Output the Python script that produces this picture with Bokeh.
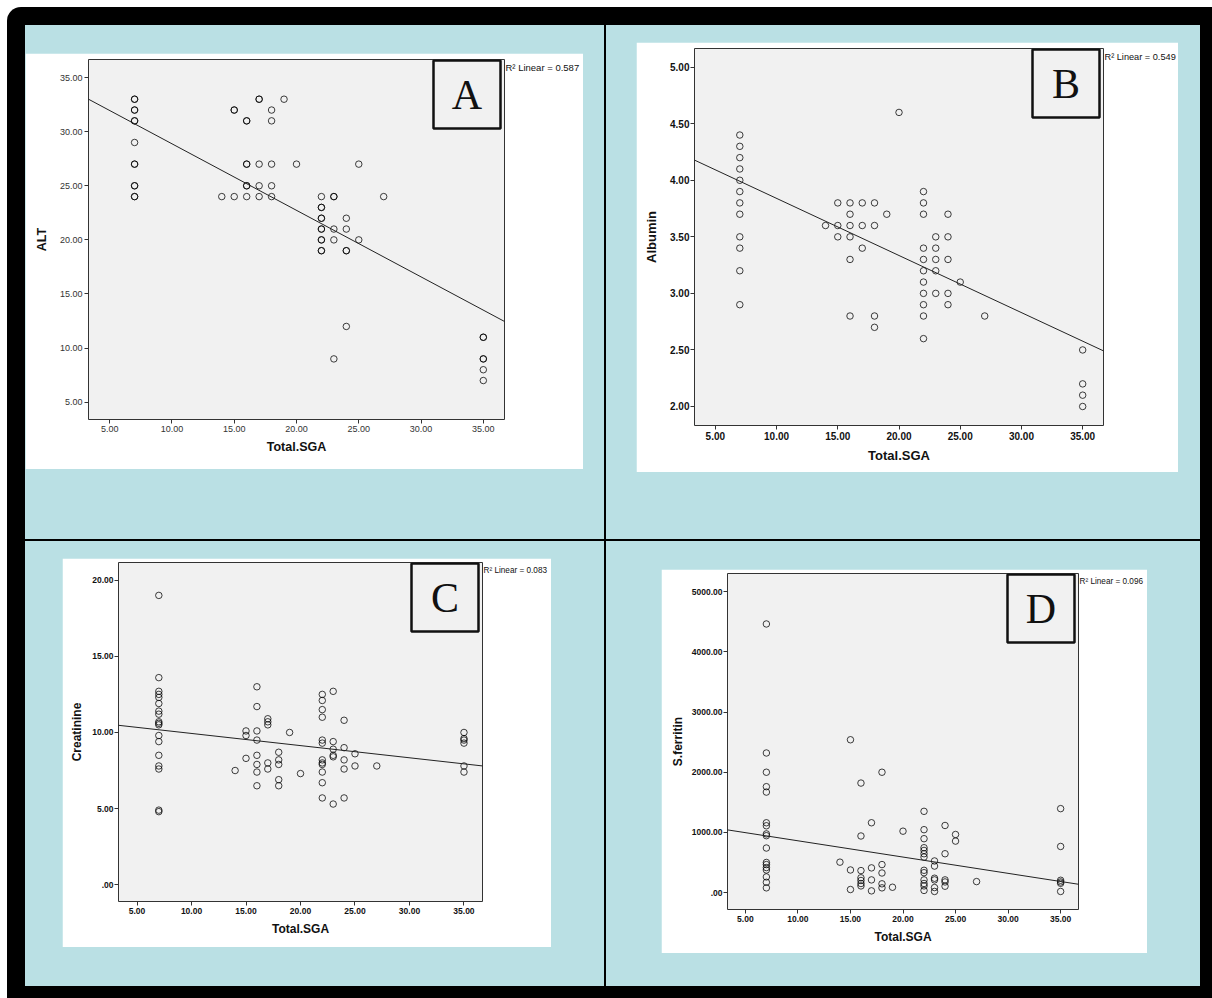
from bokeh.plotting import figure
from bokeh.models import Range1d, FixedTicker, Slope, Label, BoxAnnotation, Spacer, LinearAxis
from bokeh.layouts import row, column
from bokeh.embed import file_html
from bokeh.resources import INLINE

# ---------------- data ----------------
x_title = "Total.SGA"
x_ticks = [5, 10, 15, 20, 25, 30, 35]
x_tick_labels = ["5.00", "10.00", "15.00", "20.00", "25.00", "30.00", "35.00"]

# Panel A : ALT
sga_A = [7, 7, 7, 7, 7, 7, 7, 7, 7, 7, 7, 7, 7,
         14,
         15, 15, 15,
         16, 16, 16, 16, 16, 16, 16,
         17, 17, 17, 17, 17,
         18, 18, 18, 18, 18,
         19, 20,
         22, 22, 22, 22, 22, 22, 22, 22, 22, 22, 22,
         23, 23, 23, 23, 23,
         24, 24, 24, 24, 24,
         25, 25, 27,
         35, 35, 35, 35, 35, 35]
alt_A = [33, 33, 32, 32, 31, 31, 29, 27, 27, 25, 25, 24, 24,
         24,
         32, 32, 24,
         31, 31, 27, 27, 25, 25, 24,
         33, 33, 27, 25, 24,
         32, 31, 27, 25, 24,
         33, 27,
         24, 23, 23, 22, 22, 21, 21, 20, 20, 19, 19,
         24, 24, 21, 20, 9,
         22, 21, 19, 19, 12,
         27, 20, 24,
         11, 11, 9, 9, 8, 7]
fit_A = (35.03, -0.615)          # intercept, slope
r2_A = "R\u00b2 Linear = 0.587"
y_title_A = "ALT"
y_ticks_A = [5, 10, 15, 20, 25, 30, 35]
y_tick_labels_A = ["5.00", "10.00", "15.00", "20.00", "25.00", "30.00", "35.00"]

# Panel B : Albumin
sga_B = [7, 7, 7, 7, 7, 7, 7, 7, 7, 7, 7, 7,
         14,
         15, 15, 15,
         16, 16, 16, 16, 16, 16,
         17, 17, 17,
         18, 18, 18, 18,
         19, 20,
         22, 22, 22, 22, 22, 22, 22, 22, 22, 22, 22,
         23, 23, 23, 23, 23,
         24, 24, 24, 24, 24,
         25, 27,
         35, 35, 35, 35]
alb_B = [4.4, 4.3, 4.2, 4.1, 4.0, 3.9, 3.8, 3.7, 3.5, 3.4, 3.2, 2.9,
         3.6,
         3.8, 3.6, 3.5,
         3.8, 3.7, 3.6, 3.5, 3.3, 2.8,
         3.8, 3.6, 3.4,
         3.8, 3.6, 2.8, 2.7,
         3.7, 4.6,
         3.9, 3.8, 3.7, 3.4, 3.3, 3.2, 3.1, 3.0, 2.9, 2.8, 2.6,
         3.5, 3.4, 3.3, 3.2, 3.0,
         3.7, 3.5, 3.3, 3.0, 2.9,
         3.1, 2.8,
         2.5, 2.2, 2.1, 2.0]
fit_B = (4.345, -0.0505)
r2_B = "R\u00b2 Linear = 0.549"
y_title_B = "Albumin"
y_ticks_B = [2.0, 2.5, 3.0, 3.5, 4.0, 4.5, 5.0]
y_tick_labels_B = ["2.00", "2.50", "3.00", "3.50", "4.00", "4.50", "5.00"]

# Panel C : Creatinine
sga_C = [7, 7, 7, 7, 7, 7, 7, 7, 7, 7, 7, 7, 7, 7, 7, 7, 7, 7,
         14,
         15, 15, 15,
         16, 16, 16, 16, 16, 16, 16, 16,
         17, 17, 17, 17, 17,
         18, 18, 18, 18, 18,
         19, 20,
         22, 22, 22, 22, 22, 22, 22, 22, 22, 22, 22, 22,
         23, 23, 23, 23, 23, 23,
         24, 24, 24, 24, 24,
         25, 25, 27,
         35, 35, 35, 35, 35, 35]
cre_C = [19.0, 13.6, 12.7, 12.5, 12.3, 11.9, 11.4, 11.2, 10.7, 10.6, 10.5, 9.8, 9.4, 8.5, 7.8, 7.6, 4.9, 4.8,
         7.5,
         10.1, 9.8, 8.3,
         13.0, 11.7, 10.1, 9.5, 8.5, 7.9, 7.4, 6.5,
         10.9, 10.7, 10.5, 8.0, 7.6,
         8.7, 8.2, 7.9, 6.9, 6.5,
         10.0, 7.3,
         12.5, 12.1, 11.5, 11.0, 9.5, 9.3, 8.2, 8.0, 7.9, 7.4, 6.7, 5.7,
         12.7, 9.4, 8.9, 8.5, 8.4, 5.3,
         10.8, 9.0, 8.2, 7.6, 5.7,
         8.6, 7.8, 7.8,
         10.0, 9.6, 9.5, 9.3, 7.8, 7.4]
fit_C = (10.734, -0.0799)
r2_C = "R\u00b2 Linear = 0.083"
y_title_C = "Creatinine"
y_ticks_C = [0, 5, 10, 15, 20]
y_tick_labels_C = [".00", "5.00", "10.00", "15.00", "20.00"]

# Panel D : S.ferritin
sga_D = [7, 7, 7, 7, 7, 7, 7, 7, 7, 7, 7, 7, 7, 7, 7, 7, 7,
         14,
         15, 15, 15,
         16, 16, 16, 16, 16, 16, 16,
         17, 17, 17, 17,
         18, 18, 18, 18, 18,
         19, 20,
         22, 22, 22, 22, 22, 22, 22, 22, 22, 22, 22, 22, 22,
         23, 23, 23, 23, 23, 23,
         24, 24, 24, 24, 24,
         25, 25, 27,
         35, 35, 35, 35, 35, 35]
fer_D = [4465, 2320, 2000, 1760, 1670, 1160, 1110, 975, 945, 740, 500, 465, 415, 375, 260, 170, 78,
         505,
         2540, 375, 50,
         1820, 940, 365, 245, 200, 150, 110,
         1160, 410, 210, 28,
         2000, 465, 325, 145, 78,
         88, 1020,
         1350, 1045, 895, 745, 700, 645, 590, 370, 330, 210, 150, 110, 35,
         525, 440, 238, 210, 83, 18,
         1115, 645, 210, 176, 105,
         965, 855, 182,
         1395, 766, 204, 176, 154, 18]
fit_D = (1131.0, -27.07)
r2_D = "R\u00b2 Linear = 0.096"
y_title_D = "S.ferritin"
y_ticks_D = [0, 1000, 2000, 3000, 4000, 5000]
y_tick_labels_D = [".00", "1000.00", "2000.00", "3000.00", "4000.00", "5000.00"]

# ---------------- styling / layout ----------------
BLUE = "#bae0e4"
PLOT_BG = "#f1f1f1"
FONT = "Liberation Sans"
SERIF = "Liberation Serif"
X_RANGE = (3.3, 36.7)


def make_panel(xs, ys, y_range, y_ticks, y_tick_labels, y_title, fit, r2, letter,
               frame, borders, margin, tick_style, tick_size, tick_color,
               ylab_standoff, ytick_standoff, title_size, r2_size):
    fw, fh = frame
    bl, br, bt, bb = borders
    p = figure(frame_width=fw, frame_height=fh,
               min_border_left=bl, min_border_right=br,
               min_border_top=bt, min_border_bottom=bb,
               x_range=Range1d(*X_RANGE), y_range=Range1d(*y_range),
               output_backend="svg", toolbar_location=None, title=None,
               margin=margin)
    p.background_fill_color = PLOT_BG
    p.border_fill_color = "white"
    p.outline_line_color = "#333333"
    p.outline_line_width = 1
    p.grid.visible = False

    p.xaxis.ticker = FixedTicker(ticks=x_ticks, minor_ticks=[])
    p.xaxis.major_label_overrides = dict(zip(x_ticks, x_tick_labels))
    p.yaxis.ticker = FixedTicker(ticks=y_ticks, minor_ticks=[])
    p.yaxis.major_label_overrides = dict(zip(y_ticks, y_tick_labels))
    p.xaxis.axis_label = x_title
    p.yaxis.axis_label = y_title

    for ax in (p.xaxis, p.yaxis):
        ax.axis_line_color = None
        ax.major_tick_in = 0
        ax.major_tick_out = 4
        ax.major_tick_line_color = "#333333"
        ax.minor_tick_line_color = None
        ax.major_label_text_font = FONT
        ax.major_label_text_font_size = tick_size
        ax.major_label_text_font_style = tick_style
        ax.major_label_text_color = tick_color
        ax.axis_label_text_font = FONT
        ax.axis_label_text_font_style = "bold"
        ax.axis_label_text_font_size = title_size
        ax.axis_label_text_color = "#111111"
    p.xaxis.major_label_standoff = 2
    p.xaxis.axis_label_standoff = 5
    p.yaxis.major_label_standoff = ytick_standoff
    p.yaxis.axis_label_standoff = ylab_standoff

    # regression line
    p.add_layout(Slope(gradient=fit[1], y_intercept=fit[0],
                       line_color="#222222", line_width=1))

    # points
    p.scatter(xs, ys, marker="circle", size=6.5, fill_color=None,
              line_color="black", line_alpha=0.75, line_width=1)

    # helpers converting pixel offsets (from the frame's top-right corner) to data
    xpp = (X_RANGE[1] - X_RANGE[0]) / fw
    ypp = (y_range[1] - y_range[0]) / fh

    def dx(px):
        return X_RANGE[1] + px * xpp

    def dy(py):
        return y_range[1] - py * ypp

    # letter box
    p.add_layout(BoxAnnotation(left=dx(-71), right=dx(-4), top=dy(1), bottom=dy(69),
                               fill_color=PLOT_BG, fill_alpha=1.0,
                               line_color="#111111", line_alpha=1.0, line_width=2.5))
    p.add_layout(Label(x=dx(-37.5), y=dy(35.5), text=letter,
                       text_font=SERIF, text_font_size="42px",
                       text_align="center", text_baseline="middle",
                       text_color="#111111"))
    # R^2 text, to the right of the frame: a right-hand axis with a single labelled tick
    y_r2 = dy(8)
    r2_axis = LinearAxis(ticker=FixedTicker(ticks=[y_r2], minor_ticks=[]),
                         major_label_overrides={y_r2: r2},
                         axis_line_color=None, major_tick_line_color=None,
                         minor_tick_line_color=None,
                         major_tick_in=0, major_tick_out=0,
                         major_label_standoff=1,
                         major_label_text_font=FONT,
                         major_label_text_font_size=r2_size,
                         major_label_text_color="#111111")
    p.add_layout(r2_axis, "right")
    return p


pA = make_panel(sga_A, alt_A, (3.4, 36.67), y_ticks_A, y_tick_labels_A, y_title_A, fit_A, r2_A, "A",
                frame=(416, 360), borders=(63, 79, 6, 50), margin=(28, 21, 70, 0),
                tick_style="normal", tick_size="9px", tick_color="#333333",
                ylab_standoff=8, ytick_standoff=2, title_size="12.5px", r2_size="9.5px")
pB = make_panel(sga_B, alb_B, (1.832, 5.165), y_ticks_B, y_tick_labels_B, y_title_B, fit_B, r2_B, "B",
                frame=(409, 377), borders=(58, 75, 4, 49), margin=(17, 22, 67, 30),
                tick_style="bold", tick_size="10px", tick_color="#111111",
                ylab_standoff=8, ytick_standoff=1, title_size="13px", r2_size="9.2px")
pC = make_panel(sga_C, cre_C, (-1.1, 21.16), y_ticks_C, y_tick_labels_C, y_title_C, fit_C, r2_C, "C",
                frame=(364, 339), borders=(56, 69, 4, 46), margin=(17, 53, 39, 37),
                tick_style="bold", tick_size="8.5px", tick_color="#111111",
                ylab_standoff=5, ytick_standoff=1, title_size="12px", r2_size="8.2px")
pD = make_panel(sga_D, fer_D, (-282, 5304), y_ticks_D, y_tick_labels_D, y_title_D, fit_D, r2_D, "D",
                frame=(351, 336), borders=(66, 69, 4, 44), margin=(28, 53, 33, 55),
                tick_style="bold", tick_size="8.5px", tick_color="#111111",
                ylab_standoff=4, ytick_standoff=1, title_size="12px", r2_size="8.2px")

BLACK = {"background-color": "#000000"}
v1 = Spacer(width=2, height=514, styles=BLACK)
v2 = Spacer(width=2, height=445, styles=BLACK)
h1 = Spacer(width=1175, height=2, styles=BLACK)

row1 = row(pA, v1, pB)
row2 = row(pC, v2, pD)
inner = column(row1, h1, row2, styles={"background-color": BLUE}, margin=(18, 12, 12, 18))
frame_box = column(inner, margin=(7, 0, 0, 7),
                   styles={"background-color": "#000000", "border-top-left-radius": "14px"})
root = column(frame_box, styles={"background-color": "#ffffff"})

open("out.html", "w").write(file_html(root, INLINE))
